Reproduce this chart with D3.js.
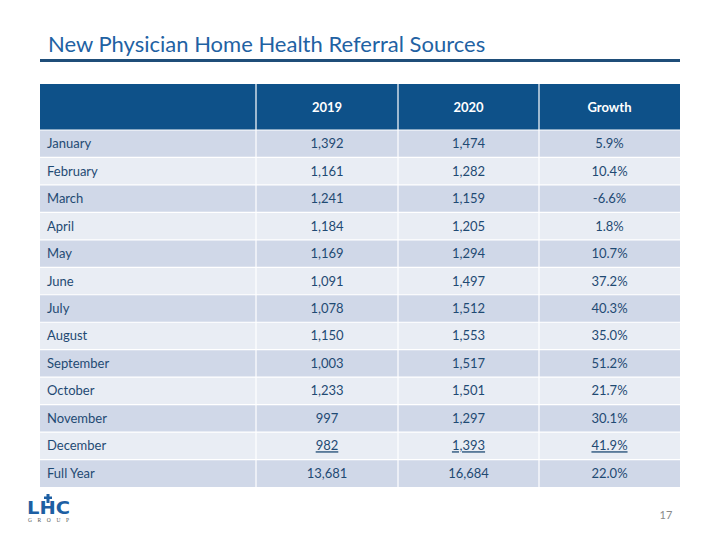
<!DOCTYPE html>
<html><head><meta charset="utf-8">
<script src="https://cdn.jsdelivr.net/npm/d3@7"></script>
<style>body{margin:0;background:#fff}svg{display:block}</style>
</head><body>
<svg id="c" width="720" height="540"></svg>
<script>
const title = "New Physician Home Health Referral Sources";
const columns = ["", "2019", "2020", "Growth"];
const months = ["January","February","March","April","May","June","July","August","September","October","November","December","Full Year"];
const v2019 = ["1,392","1,161","1,241","1,184","1,169","1,091","1,078","1,150","1,003","1,233","997","982","13,681"];
const v2020 = ["1,474","1,282","1,159","1,205","1,294","1,497","1,512","1,553","1,517","1,501","1,297","1,393","16,684"];
const growth = ["5.9%","10.4%","-6.6%","1.8%","10.7%","37.2%","40.3%","35.0%","51.2%","21.7%","30.1%","41.9%","22.0%"];
const underlinedRow = "December";
const pageNum = "17";

const font = "Lato, 'Open Sans', sans-serif";
const svg = d3.select("#c");
const dark = "#0e5189", text = "#1f4a73";

svg.append("text").attr("x", 48).attr("y", 52).attr("font-family", font)
  .attr("font-size", 22).attr("fill", "#1f62a3").text(title);
svg.append("rect").attr("x", 40).attr("y", 59).attr("width", 640).attr("height", 3).attr("fill", "#1f4e79");

const colEdges = [40, 256, 398, 539, 680];
const x = d3.scaleOrdinal().domain(columns).range(colEdges.slice(0, 4));
const colW = c => { const i = columns.indexOf(c); return colEdges[i + 1] - colEdges[i]; };
const headerTop = 84, headerH = 46;
const y = d3.scaleBand().domain(months).range([headerTop + headerH, 487]);

// header
const hdr = svg.append("g");
hdr.selectAll("rect").data(columns).join("rect")
  .attr("x", d => x(d)).attr("y", headerTop).attr("width", d => colW(d)).attr("height", headerH)
  .attr("fill", dark);
hdr.selectAll("text").data(columns.slice(1)).join("text")
  .attr("x", d => x(d) + colW(d) / 2).attr("y", headerTop + headerH / 2 + 5)
  .attr("text-anchor", "middle").attr("font-family", font).attr("font-weight", "bold")
  .attr("font-size", 13).attr("fill", "#fff").text(d => d);

const rows = months.map((m, i) => ({m, i, vals: [m, v2019[i], v2020[i], growth[i]]}));
const rg = svg.append("g").selectAll("g").data(rows).join("g");
rg.append("rect").attr("x", 40).attr("y", d => y(d.m)).attr("width", 640).attr("height", y.bandwidth())
  .attr("fill", d => d.i % 2 === 0 ? "#d0d8e8" : "#e9edf4");
rg.each(function(d) {
  const g = d3.select(this);
  d.vals.forEach((v, j) => {
    const c = columns[j];
    const t = g.append("text")
      .attr("x", j === 0 ? x(c) + 7 : x(c) + colW(c) / 2)
      .attr("y", y(d.m) + y.bandwidth() / 2 + 4.5)
      .attr("text-anchor", j === 0 ? "start" : "middle")
      .attr("font-family", font).attr("font-size", 13).attr("fill", text).text(v);
    if (j > 0 && d.m === underlinedRow) t.attr("text-decoration", "underline");
  });
});
// white gridlines
const grid = svg.append("g").attr("stroke", "#fff").attr("stroke-width", 1.2);
colEdges.slice(1, 4).forEach(e => grid.append("line").attr("x1", e).attr("x2", e).attr("y1", headerTop).attr("y2", 487));
months.forEach(m => grid.append("line").attr("x1", 40).attr("x2", 680).attr("y1", y(m)).attr("y2", y(m)));

// page number
svg.append("text").attr("x", 666).attr("y", 519).attr("text-anchor", "middle").attr("font-family", font)
  .attr("font-size", 11).attr("fill", "#8a8a8a").text(pageNum);

// logo
const lg = svg.append("g").attr("transform", "translate(27,494)");
lg.append("text").attr("x", 0).attr("y", 20).attr("font-family", "'DejaVu Sans', sans-serif").attr("font-weight", "bold")
  .attr("font-size", 17).attr("fill", "#1d5fa3").attr("textLength", 43).attr("lengthAdjust", "spacingAndGlyphs").text("LHC");
lg.append("rect").attr("x", 19.5).attr("y", 0).attr("width", 3).attr("height", 9).attr("fill", "#1d5fa3");
lg.append("rect").attr("x", 17).attr("y", 2.5).attr("width", 8).attr("height", 2.5).attr("fill", "#1d5fa3");
lg.append("text").attr("x", 1).attr("y", 28).attr("font-family", "serif").attr("font-size", 5.5)
  .attr("fill", "#555").attr("textLength", 41).text("GROUP");
</script>
</body></html>
